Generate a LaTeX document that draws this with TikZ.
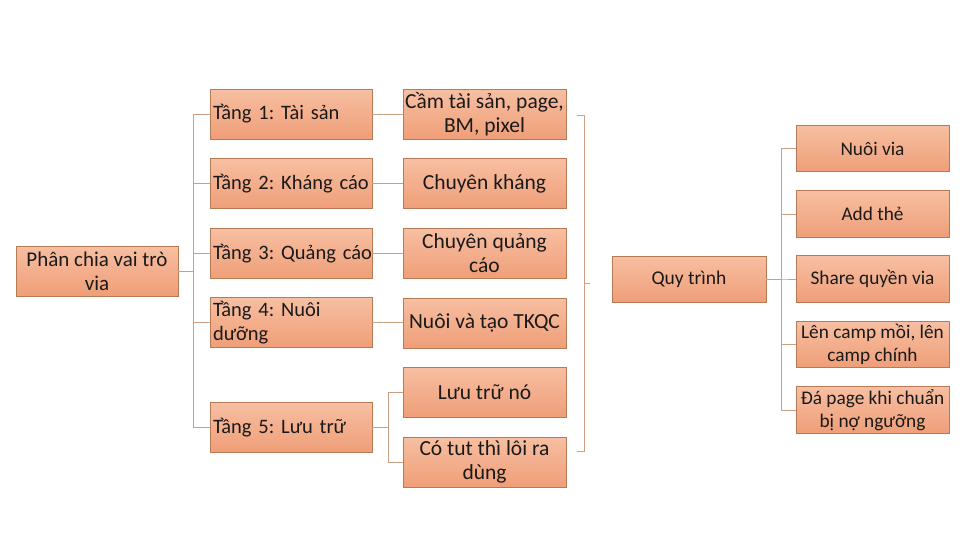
\documentclass[tikz,border=0pt]{standalone}
\usepackage{fontspec}
\setmainfont{Carlito}
\frenchspacing
\definecolor{boxborder}{HTML}{B67A55}
\definecolor{boxtop}{HTML}{F7BFA2}
\definecolor{boxbot}{HTML}{EF9E78}
\definecolor{linkcol}{HTML}{C9A083}
\definecolor{txt}{HTML}{1A1A1A}
\tikzset{
  card/.style={rectangle, draw=boxborder, line width=0.9pt, top color=boxtop, bottom color=boxbot,
    minimum height=50pt, inner sep=2pt, text=txt, font=\fontsize{20.5}{23.5}\selectfont},
  leftcard/.style={card, minimum width=162pt, inner xsep=3pt, text width=156pt, align=left},
  midcard/.style={card, minimum width=163pt, align=center, font=\fontsize{21.5}{24}\selectfont},
  rootcard/.style={card, minimum width=162pt, align=center, font=\fontsize{21}{24}\selectfont},
  qcard/.style={card, minimum width=154pt, minimum height=46pt, align=center, font=\fontsize{19.5}{22.5}\selectfont},
  rcard/.style={card, minimum width=153pt, minimum height=46.5pt, align=center, font=\fontsize{19.3}{22.5}\selectfont},
  link/.style={draw=linkcol, line width=0.9pt}
}
\begin{document}
\begin{tikzpicture}[x=1pt,y=-1pt]
\useasboundingbox (0,0) rectangle (980,551);
% root
\node[rootcard] (root) at (97,271) {Phân chia vai trò\\via};
% tiers
\node[leftcard] (t1) at (291,114) {\mbox{Tầng 1: Tài sản}};
\node[leftcard] (t2) at (291,183.5) {\mbox{Tầng 2: Kháng cáo}};
\node[leftcard] (t3) at (291,253.5) {\mbox{Tầng 3: Quảng cáo}};
\node[leftcard] (t4) at (291,322.5) {\mbox{Tầng 4: Nuôi}\\\mbox{dưỡng}};
\node[leftcard] (t5) at (291,427.5) {\mbox{Tầng 5: Lưu trữ}};
% details
\node[midcard] (d1) at (484.5,114.5) {Cầm tài sản, page,\\BM, pixel};
\node[midcard] (d2) at (484.5,183.5) {Chuyên kháng};
\node[midcard] (d3) at (484.5,253.5) {Chuyên quảng\\cáo};
\node[midcard] (d4) at (484.5,323) {Nuôi và tạo TKQC};
\node[midcard] (d5) at (484.5,392) {Lưu trữ nó};
\node[midcard] (d6) at (484.5,462) {Có tut thì lôi ra\\dùng};
% process
\node[qcard] (q) at (689,279) {Quy trình};
\node[rcard] (r1) at (872.5,148.5) {Nuôi via};
\node[rcard] (r2) at (872.5,214) {Add thẻ};
\node[rcard] (r3) at (872.5,279) {Share quyền via};
\node[rcard] (r4) at (872.5,344.5) {Lên camp mồi, lên\\camp chính};
\node[rcard] (r5) at (872.5,410) {Đá page khi chuẩn\\bị nợ ngưỡng};
% connectors root -> tiers
\coordinate (rj) at (193,271);
\foreach \t in {t1,t2,t3,t4,t5}{
  \draw[link] (root.east) -- (rj) |- (\t.west);
}
% tiers -> details
\foreach \a/\b in {t1/d1,t2/d2,t3/d3,t4/d4}{
  \draw[link] (\a.east) -- (\a.east -| \b.west);
}
\coordinate (t5j) at (388,427.5);
\draw[link] (t5.east) -- (t5j) |- (d5.west);
\draw[link] (t5j) |- (d6.west);
% brace
\coordinate (bt) at (584,115);
\coordinate (bb) at (584,451);
\coordinate (bm) at (584,283);
\coordinate (bmo) at (590,283);
\draw[link, line width=0.7pt] (577,115) -- (bt) -- (bb) -- (577,451);
\draw[link, line width=0.7pt] (bm) -- (bmo);
% process connectors
\coordinate (qj) at (781,279);
\foreach \r in {r1,r2,r3,r4,r5}{
  \draw[link] (q.east) -- (qj) |- (\r.west);
}
\end{tikzpicture}
\end{document}
